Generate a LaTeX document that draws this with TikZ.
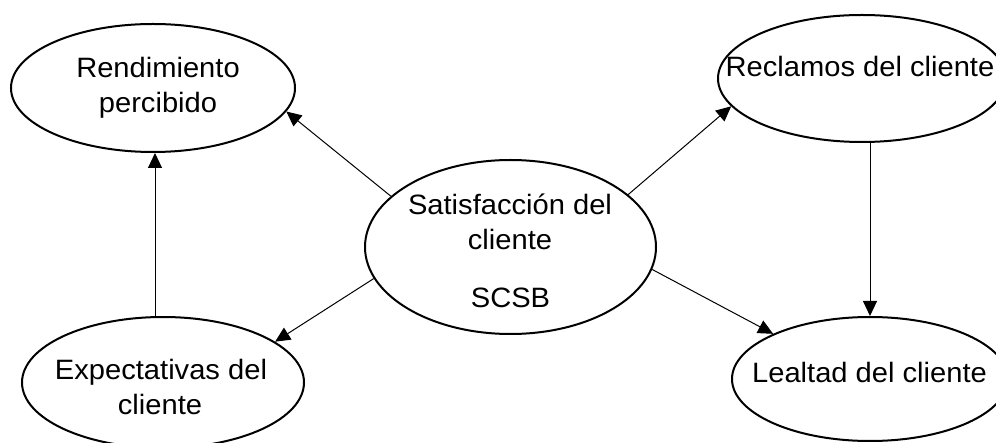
\documentclass[tikz,border=0pt]{standalone}
\usepackage{fontspec}
\setmainfont{Liberation Sans}[FakeStretch=1.04]
\usetikzlibrary{shapes.geometric,arrows.meta}
\begin{document}
\begin{tikzpicture}[x=1pt,y=-1pt,
  oval/.style={ellipse,draw,line width=2pt,inner sep=0pt},
  lbl/.style={anchor=base,inner sep=0pt,font=\fontsize{28}{35.5}\selectfont},
  arr/.style={line width=1pt,-{Triangle[length=15pt,width=14pt]}}]
\clip (0,0) rectangle (996,443);
% ellipses
\node[oval,minimum width=284pt,minimum height=128pt] (rend) at (153,88) {};
\node[oval,minimum width=288pt,minimum height=127pt] (recl) at (862,78.5) {};
\node[oval,minimum width=291pt,minimum height=174pt] (sat) at (510.5,247) {};
\node[oval,minimum width=282pt,minimum height=131pt] (exp) at (163,382.5) {};
\node[oval,minimum width=276pt,minimum height=124pt] (lea) at (870,379) {};
% texts
\node[lbl] (t1) at (158,77.3) {Rendimiento};
\node[lbl] (t2) at (158,113) {percibido};
\node[lbl] (t3) at (860,77) {Reclamos del cliente};
\node[lbl] (t4) at (510,215) {Satisfacción del};
\node[lbl] (t5) at (510,250) {cliente};
\node[lbl] (t6) at (510.5,308) {SCSB};
\node[lbl] (t7) at (161,380) {Expectativas del};
\node[lbl] (t8) at (160,415) {cliente};
\node[lbl] (t9) at (869.5,383) {Lealtad del cliente};
% helper verticals
\coordinate (u) at (155,0);
\coordinate (v) at (870,0);
% connectors
\draw[arr] (sat.157.5) -- (rend.350);
\draw[arr] (sat.193) -- (exp.20.8);
\draw[arr] (sat.24.7) -- (recl.192.4);
\draw[arr] (sat.351) -- (lea.155.1);
\draw[arr] (exp.north -| u) -- (rend.south -| u);
\draw[arr] (recl.south -| v) -- (lea.north -| v);
\end{tikzpicture}
\end{document}
